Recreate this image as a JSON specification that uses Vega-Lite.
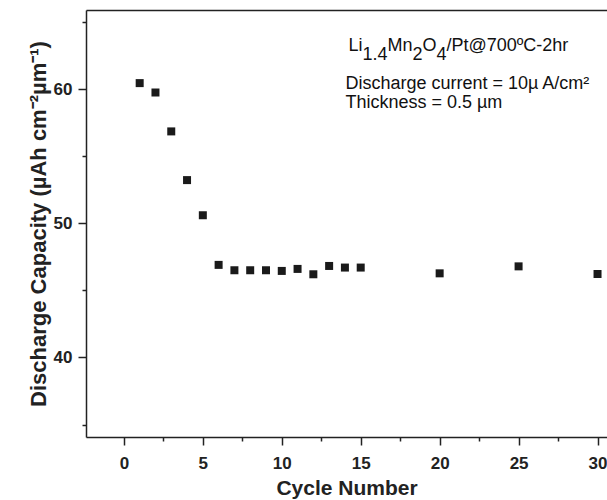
{
  "$schema": "https://vega.github.io/schema/vega-lite/v6.json",
  "width": 521,
  "height": 427,
  "autosize": {"type": "none"},
  "padding": {"left": 86, "top": 10, "right": 0, "bottom": 63},
  "background": "white",
  "config": {
    "view": {"stroke": null},
    "font": "Liberation Sans",
    "axis": {
      "domainColor": "#222",
      "domainWidth": 1.5,
      "tickColor": "#222",
      "tickWidth": 1.5,
      "grid": false,
      "labelFont": "Liberation Sans",
      "labelFontWeight": "bold",
      "labelFontSize": 17,
      "labelColor": "#222",
      "titleFont": "Liberation Sans",
      "titleFontWeight": "bold",
      "titleColor": "#222"
    },
    "text": {"font": "Liberation Sans", "fontSize": 18, "color": "#111", "align": "left", "baseline": "alphabetic"}
  },
  "datasets": {
    "capacity": [
      {"cycle": 1, "capacity": 60.45},
      {"cycle": 2, "capacity": 59.75},
      {"cycle": 3, "capacity": 56.85},
      {"cycle": 4, "capacity": 53.22},
      {"cycle": 5, "capacity": 50.6},
      {"cycle": 6, "capacity": 46.9},
      {"cycle": 7, "capacity": 46.5},
      {"cycle": 8, "capacity": 46.5},
      {"cycle": 9, "capacity": 46.5},
      {"cycle": 10, "capacity": 46.45},
      {"cycle": 11, "capacity": 46.6},
      {"cycle": 12, "capacity": 46.2},
      {"cycle": 13, "capacity": 46.82},
      {"cycle": 14, "capacity": 46.7},
      {"cycle": 15, "capacity": 46.7},
      {"cycle": 20, "capacity": 46.27},
      {"cycle": 25, "capacity": 46.79},
      {"cycle": 30, "capacity": 46.22}
    ],
    "note": [{"id": 1}]
  },
  "resolve": {"axis": {"x": "independent"}},
  "layer": [
    {
      "data": {"name": "capacity"},
      "mark": {"type": "square", "size": 64, "color": "#1a1a1a", "opacity": 1, "filled": true},
      "encoding": {
        "x": {
          "field": "cycle",
          "type": "quantitative",
          "scale": {"domain": [-2.4, 30.6], "nice": false, "zero": false},
          "axis": {
            "title": "Cycle Number",
            "titleFontSize": 21,
            "values": [0, 2.5, 5, 7.5, 10, 12.5, 15, 17.5, 20, 22.5, 25, 27.5, 30],
            "labelExpr": "datum.value % 5 === 0 ? datum.label : ''",
            "tickSize": {"condition": {"test": "datum.value % 5 === 0", "value": 8}, "value": 4},
            "labelPadding": 10,
            "titlePadding": 6,
            "labelFlush": false
          }
        },
        "y": {
          "field": "capacity",
          "type": "quantitative",
          "scale": {"domain": [34.07, 65.9], "nice": false, "zero": false},
          "axis": {
            "title": "Discharge Capacity (µAh cm⁻²µm⁻¹)",
            "titleFontSize": 22,
            "values": [35, 40, 45, 50, 55, 60, 65],
            "labelExpr": "datum.value % 10 === 0 ? datum.label : ''",
            "tickSize": {"condition": {"test": "datum.value % 10 === 0", "value": 8}, "value": 4},
            "labelPadding": 6,
            "titlePadding": 3,
            "labelFlush": false
          }
        }
      }
    },
    {
      "data": {"name": "note"},
      "mark": {"type": "text", "dx": 3},
      "encoding": {
        "x": {"datum": 14.03, "type": "quantitative", "axis": {"orient": "top", "title": null, "labels": false, "ticks": false, "domain": true}},
        "y": {"datum": 62.84, "type": "quantitative"},
        "text": {"value": "Li"}
      }
    },
    {
      "data": {"name": "note"},
      "mark": {"type": "text", "dx": 17, "dy": 9},
      "encoding": {
        "x": {"datum": 14.03, "type": "quantitative", "axis": null},
        "y": {"datum": 62.84, "type": "quantitative"},
        "text": {"value": "1.4"}
      }
    },
    {
      "data": {"name": "note"},
      "mark": {"type": "text", "dx": 42},
      "encoding": {
        "x": {"datum": 14.03, "type": "quantitative", "axis": null},
        "y": {"datum": 62.84, "type": "quantitative"},
        "text": {"value": "Mn"}
      }
    },
    {
      "data": {"name": "note"},
      "mark": {"type": "text", "dx": 67, "dy": 9},
      "encoding": {
        "x": {"datum": 14.03, "type": "quantitative", "axis": null},
        "y": {"datum": 62.84, "type": "quantitative"},
        "text": {"value": "2"}
      }
    },
    {
      "data": {"name": "note"},
      "mark": {"type": "text", "dx": 77},
      "encoding": {
        "x": {"datum": 14.03, "type": "quantitative", "axis": null},
        "y": {"datum": 62.84, "type": "quantitative"},
        "text": {"value": "O"}
      }
    },
    {
      "data": {"name": "note"},
      "mark": {"type": "text", "dx": 91, "dy": 9},
      "encoding": {
        "x": {"datum": 14.03, "type": "quantitative", "axis": null},
        "y": {"datum": 62.84, "type": "quantitative"},
        "text": {"value": "4"}
      }
    },
    {
      "data": {"name": "note"},
      "mark": {"type": "text", "dx": 101},
      "encoding": {
        "x": {"datum": 14.03, "type": "quantitative", "axis": null},
        "y": {"datum": 62.84, "type": "quantitative"},
        "text": {"value": "/Pt@700ºC-2hr"}
      }
    },
    {
      "data": {"name": "note"},
      "mark": {"type": "text"},
      "encoding": {
        "x": {"datum": 14.03, "type": "quantitative", "axis": null},
        "y": {"datum": 60.01, "type": "quantitative"},
        "text": {"value": "Discharge current = 10µ A/cm²"}
      }
    },
    {
      "data": {"name": "note"},
      "mark": {"type": "text"},
      "encoding": {
        "x": {"datum": 14.03, "type": "quantitative", "axis": null},
        "y": {"datum": 58.6, "type": "quantitative"},
        "text": {"value": "Thickness = 0.5 µm"}
      }
    }
  ]
}
